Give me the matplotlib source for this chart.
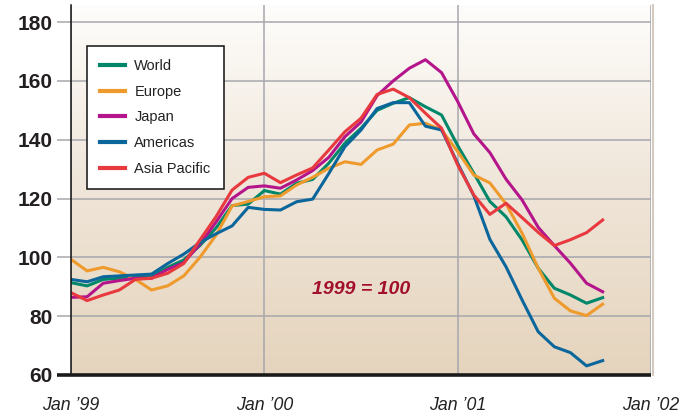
import numpy as np
import matplotlib.pyplot as plt
from matplotlib.colors import LinearSegmentedColormap

months = np.arange(34)  # Jan '99 .. Oct '01

world = [91.4, 90.3, 92.5, 92.9, 93.2, 93.4, 96.6, 99.1, 104.0, 110.0, 117.6, 118.1,
         122.7, 121.5, 125.2, 126.5, 132.0, 138.8, 143.9, 150.0, 152.4, 154.3, 151.2, 148.4,
         138.0, 128.6, 119.0, 113.8, 105.9, 96.3, 89.5, 87.2, 84.4, 86.3]
europe = [99.3, 95.4, 96.6, 95.1, 92.5, 88.9, 90.3, 93.7, 100.0, 107.5, 117.5, 119.0,
          120.6, 120.9, 124.6, 127.2, 130.3, 132.5, 131.6, 136.5, 138.5, 145.0, 145.6, 143.3,
          136.0, 128.0, 125.3, 118.2, 108.2, 96.3, 86.1, 81.8, 80.2, 84.1]
japan = [86.4, 86.6, 91.2, 92.1, 92.9, 92.9, 95.9, 98.2, 104.5, 112.0, 120.0, 123.8,
         124.3, 123.5, 126.3, 129.5, 134.0, 141.0, 146.0, 155.0, 160.0, 164.3, 167.2, 162.8,
         153.0, 142.0, 135.6, 126.6, 119.5, 110.2, 104.0, 98.0, 91.2, 88.3]
americas = [92.5, 91.7, 93.4, 93.7, 94.0, 94.3, 97.9, 101.1, 105.0, 108.0, 110.7, 117.0,
            116.3, 116.1, 118.9, 119.8, 128.5, 137.6, 143.3, 150.6, 152.6, 152.6, 144.6, 143.3,
            132.0, 121.0, 106.1, 96.8, 85.5, 74.7, 69.6, 67.6, 63.1, 64.9]
asia_pacific = [88.0, 85.3, 87.2, 88.9, 92.5, 92.9, 94.6, 97.9, 105.9, 113.8, 122.9, 127.2,
                128.6, 125.4, 128.0, 130.4, 136.5, 142.7, 147.3, 155.4, 157.2, 154.3, 149.0, 143.9,
                131.4, 121.2, 114.6, 118.4, 113.5, 108.5, 104.0, 106.0, 108.4, 112.7]

series = [("World", world, "#00876a"),
          ("Europe", europe, "#ef9a2d"),
          ("Japan", japan, "#b4158b"),
          ("Americas", americas, "#0b669c"),
          ("Asia Pacific", asia_pacific, "#e8393f")]

xtick_pos = [0, 12, 24, 36]
xtick_labels = ["Jan \u201999", "Jan \u201900", "Jan \u201901", "Jan \u201902"]
ytick_pos = [60, 80, 100, 120, 140, 160, 180]

grid_col = "#a7a7ad"

fig = plt.figure(figsize=(6.91, 4.15), dpi=100)
ax = fig.add_axes([71 / 691, 1 - 375 / 415, 580 / 691, 370 / 415])
ax.set_xlim(0, 36)
ax.set_ylim(60, 185.8)

# background gradient
cmap = LinearSegmentedColormap.from_list("bg", ["#e5d4bd", "#efe5d8", "#fefdfb"])
grad = np.linspace(0, 1, 256).reshape(-1, 1)
ax.imshow(grad, cmap=cmap, aspect="auto", origin="lower",
          extent=[0, 36, 60, 185.8], zorder=0)

for name, vals, col in series:
    ax.plot(months, vals, color=col, lw=2.2, label=name, zorder=3)

ax.set_xticks(xtick_pos)
ax.set_xticklabels(xtick_labels, fontfamily="Liberation Sans", fontstyle="italic",
                   fontsize=12.8, color="#222222")
ax.set_yticks(ytick_pos)
ax.set_yticklabels([str(v) for v in ytick_pos], fontfamily="Liberation Sans",
                   fontweight="bold", fontsize=15, color="#231f20")
ax.tick_params(axis="x", length=0, pad=16)
ax.tick_params(axis="y", length=10, width=1.1, color=grid_col, pad=3.5)
ax.grid(True, color=grid_col, lw=1.1, zorder=1)
ax.set_axisbelow(False)

for s in ["top", "right", "bottom"]:
    ax.spines[s].set_visible(False)
ax.spines["left"].set_color("#111111")
ax.spines["left"].set_linewidth(1.1)
ax.spines["left"].set_zorder(4)
ax.plot([-14 / 580, 1], [0, 0], transform=ax.transAxes, color="#1a1a1a", lw=2.6,
        clip_on=False, zorder=5, solid_capstyle="butt")
ax.plot([1.003, 1.003], [0, 1], transform=ax.transAxes, color="#d3cbc0", lw=1.5,
        clip_on=False, zorder=2)

ax.text(18, 89.2, "1999 = 100", ha="center", va="center", fontfamily="Liberation Sans",
        fontweight="bold", fontstyle="italic", fontsize=14, color="#a3102c", zorder=4)

leg = ax.legend(loc="upper left", bbox_to_anchor=(16 / 580, (375 - 46) / 370),
                borderaxespad=0, frameon=True, fancybox=False, edgecolor="#111111",
                framealpha=1, prop={"family": "Liberation Sans", "size": 10.5},
                handlelength=1.7, handletextpad=0.65, borderpad=0.9, labelspacing=0.8)
leg.get_frame().set_linewidth(1.1)
leg.set_zorder(6)
for h in leg.get_lines():
    h.set_linewidth(3)
for t in leg.get_texts():
    t.set_color("#222222")

fig.savefig("out.png", dpi=100)
